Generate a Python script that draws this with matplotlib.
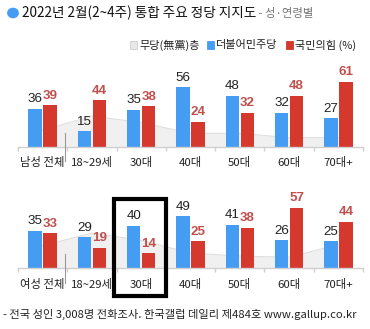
import matplotlib
matplotlib.use("Agg")
import matplotlib.pyplot as plt
from matplotlib.patches import Rectangle, Circle
import numpy as np

plt.rcParams['font.family'] = ['Noto Sans CJK KR', 'DejaVu Sans']

male_cats = ["남성 전체", "18~29세", "30대", "40대", "50대", "60대", "70대+"]
female_cats = ["여성 전체", "18~29세", "30대", "40대", "50대", "60대", "70대+"]
male_dem = [36, 15, 35, 56, 48, 32, 27]
male_ppp = [39, 44, 38, 24, 32, 48, 61]
male_none = [16, 29, 23, 13, 13, 9, 9]
female_dem = [35, 29, 40, 49, 41, 26, 25]
female_ppp = [33, 19, 14, 25, 38, 57, 44]
female_none = [21, 33, 26, 14, 11, 10, 22]

title_main = "2022년 2월(2~4주) 통합 주요 정당 지지도"
title_sub = " - 성·연령별"
legend_labels = ["무당(無黨)층", "더불어민주당", "국민의힘 (%)"]
footnote = "- 전국 성인 3,008명 전화조사. 한국갤럽 데일리 제484호 www.gallup.co.kr"

BLUE = '#459df3'
RED = '#d5382d'
RED_TXT = '#c0504d'
AREA = '#f0f0f0'
AREA_EDGE = '#dedede'

W, H = 370, 329
fig = plt.figure(figsize=(W / 100, H / 100), dpi=100)

def fy(px):
    return 1 - px / H

def fx(px):
    return px / W

left = fx(18)
width = fx(363) - left

def panel(base_px, scale, cats, dem, ppp, none, label_y, sep_bottom):
    ylim = 70
    top_px = base_px - ylim * scale
    ax = fig.add_axes([left, fy(base_px), width, fy(top_px) - fy(base_px)])
    x = np.arange(len(cats))
    ax.fill_between(x, none, 0, color=AREA, zorder=1, linewidth=0)
    ax.plot(x, none, color=AREA_EDGE, lw=0.8, zorder=1.5)
    bw = 0.27
    off = 0.152
    ax.bar(x - off, dem, width=bw, color=BLUE, zorder=2)
    ax.bar(x + off, ppp, width=bw, color=RED, zorder=2)
    for i in range(len(cats)):
        ax.annotate(str(dem[i]), (x[i] - off, dem[i]), xytext=(0, 2.5),
                    textcoords='offset points', ha='center', va='bottom',
                    fontsize=9.6, color='#222222', family=['Liberation Sans'])
        ax.annotate(str(ppp[i]), (x[i] + off, ppp[i]), xytext=(0, 2.5),
                    textcoords='offset points', ha='center', va='bottom',
                    fontsize=9.6, color=RED_TXT, fontweight='bold',
                    family=['Liberation Sans'])
    ax.set_xlim(-0.5, 6.5)
    ax.set_ylim(0, ylim)
    for s in ['top', 'right', 'left']:
        ax.spines[s].set_visible(False)
    ax.spines['bottom'].set_color('#d0d0d0')
    ax.spines['bottom'].set_linewidth(1.0)
    ax.set_yticks([])
    ax.set_xticks(np.arange(-0.5, 7, 1.0))
    ax.set_xticklabels([])
    ax.tick_params(axis='x', length=3, color='#d0d0d0', width=1)
    for i, c in enumerate(cats):
        ax.text(x[i], label_y, c, ha='center', va='top', fontsize=8.2,
                color='#222222', clip_on=False)
    ax.plot([0.45, 0.45], [13.0, sep_bottom],
            color='#999999', lw=0.8, clip_on=False, zorder=3)
    return ax

panel(147.3, 1.075, male_cats, male_dem, male_ppp, male_none, -9.0, -12.5)
panel(267.7, 1.05, female_cats, female_dem, female_ppp, female_none, -10.5, -14.5)

# title
fig.patches.append(Circle((fx(13), fy(13)), 5.2 / W, transform=fig.transFigure,
                          color=BLUE, zorder=5))
t = fig.text(fx(22), fy(13), title_main, fontsize=9.8, color='#111111',
             va='center', ha='left')
fig.canvas.draw()
bb = t.get_window_extent()
fig.text(bb.x1 / W, fy(13), title_sub, fontsize=8.2, color='#777777',
         va='center', ha='left')

# legend
leg_items = [(130, '#e8e8e8', '#cfcfcf', legend_labels[0]),
             (207, BLUE, BLUE, legend_labels[1]),
             (286, RED, RED, legend_labels[2])]
for xp, fc, ec, lab in leg_items:
    fig.patches.append(Rectangle((fx(xp), fy(48.5)), 7 / W, 7 / H,
                                 transform=fig.transFigure, facecolor=fc,
                                 edgecolor=ec, linewidth=0.6))
    fig.text(fx(xp + 9), fy(45), lab, fontsize=8.0, color='#222222',
             va='center', ha='left')

# highlight box
fig.patches.append(Rectangle((fx(114), fy(296)), 52 / W, 97 / H,
                             transform=fig.transFigure, fill=False,
                             edgecolor='black', linewidth=3.0, zorder=10))

fig.text(fx(3), fy(314), footnote, fontsize=8.1, color='#222222',
         va='center', ha='left')

fig.savefig('out.png', dpi=100)
